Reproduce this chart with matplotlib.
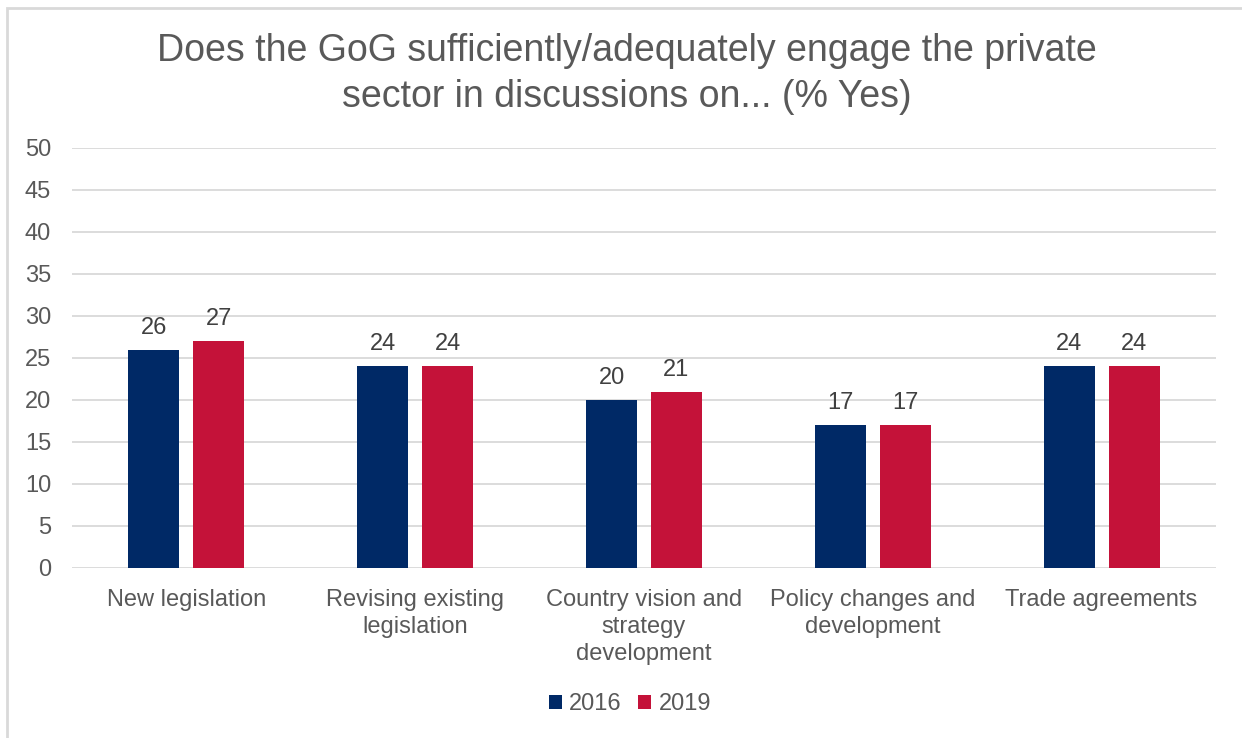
import numpy as np
import matplotlib.pyplot as plt
from matplotlib.patches import Rectangle

plt.rcParams['font.family'] = ['Liberation Sans', 'DejaVu Sans']

# Survey results (% Yes)
categories = ['New legislation', 'Revising existing\nlegislation',
              'Country vision and\nstrategy\ndevelopment',
              'Policy changes and\ndevelopment', 'Trade agreements']
years = ['2016', '2019']
values_2016 = [26, 24, 20, 17, 24]
values_2019 = [27, 24, 21, 17, 24]
colors = ['#002966', '#C41239']

fig = plt.figure(figsize=(12.42, 7.38), dpi=100)
ax = fig.add_axes([72 / 1242, 1 - 568 / 738, (1216 - 72) / 1242, (568 - 148) / 738])

x = np.arange(len(categories))
width = 0.223
offset = (width + 0.061) / 2

for i, (vals, year) in enumerate(zip([values_2016, values_2019], years)):
    pos = x + (-offset if i == 0 else offset)
    bars = ax.bar(pos, vals, width, color=colors[i], label=year, zorder=3)
    for b, v in zip(bars, vals):
        ax.text(b.get_x() + b.get_width() / 2, v + 1.3, str(v),
                ha='center', va='bottom', fontsize=17, color='#404040')

ax.set_xlim(-0.5, len(categories) - 0.5)
ax.set_ylim(0, 50)
ax.set_yticks(range(0, 51, 5))
ax.yaxis.grid(True, color='#D9D9D9', linewidth=1.3, zorder=0)
ax.set_axisbelow(True)
for s in ax.spines.values():
    s.set_visible(False)
ax.tick_params(axis='both', length=0, labelsize=17, colors='#595959')
ax.tick_params(axis='y', pad=15)
ax.tick_params(axis='x', pad=15)
ax.set_xticks(x)
ax.set_xticklabels(categories, linespacing=1.3)

fig.text(627 / 1242, 1 - 74 / 738,
         'Does the GoG sufficiently/adequately engage the private\nsector in discussions on... (% Yes)',
         ha='center', va='center', fontsize=27, color='#595959', linespacing=1.35)

leg = fig.legend(loc='center', bbox_to_anchor=(630 / 1242, 1 - 704 / 738), ncol=2,
                 frameon=False, fontsize=17, handlelength=0.55, handleheight=0.55,
                 handletextpad=0.3, columnspacing=0.7)
for t in leg.get_texts():
    t.set_color('#595959')

# Chart area border
fig.patches.append(Rectangle((7 / 1242, -0.1), 1.2, 1 - 8 / 738 + 0.1,
                             transform=fig.transFigure, fill=False,
                             edgecolor='#D9D9D9', linewidth=2))

fig.savefig('out.png', dpi=100)
